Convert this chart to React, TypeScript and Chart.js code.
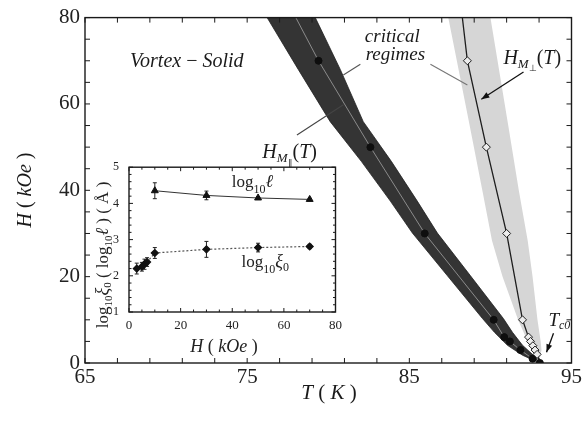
import React, { useEffect, useRef } from 'react';
import { Chart, registerables } from 'chart.js';
Chart.register(...registerables);

const SERIF = '"Liberation Serif", "Times New Roman", serif';

// ---------- main axes ----------
const T_MIN = 65, T_MAX = 95, T_STEP = 2;
const H_MIN = 0, H_MAX = 80, H_STEP = 5;
const T_LABELED = [65, 75, 85, 95];
const H_LABELED = [0, 20, 40, 60, 80];

// H_M∥(T) : filled circles and the line through them
const parT = [79.4, 82.6, 85.95, 90.2, 90.85, 91.2, 91.85, 92.6, 93.05];
const parH = [70, 50, 30, 10, 6, 5, 3, 1, 0];
const parLineT = [78.0, ...parT];
const parLineH = [80, ...parH];

// H_M⊥(T) : open diamonds and the line through them
const perT = [88.58, 89.75, 91.0, 91.98, 92.35, 92.47, 92.62, 92.75, 92.88];
const perH = [70, 50, 30, 10, 6, 5, 4, 3, 2];
const perLineT = [88.27, ...perT, 93.05];
const perLineH = [80, ...perH, 0];

// critical regime bands (edges in T for given H)
const darkBandH = [80, 68.0, 55.9, 46.7, 37.5, 30.1, 20.2, 10.3, 7.1, 4.1, 1.8, 0];
const darkLeftT = [76.23, 78.15, 80.12, 82.04, 83.83, 85.19, 87.35, 89.51, 90.25, 91.05, 91.98, 93.05];
const darkRightT = [79.2, 80.74, 82.16, 83.89, 85.49, 86.73, 88.77, 90.8, 91.36, 91.98, 92.65, 93.05];
const lightBandH = [80, 55, 40, 28.3, 20, 10.1, 5, 3, 0];
const lightLeftT = [87.4, 88.72, 89.5, 90.1, 90.75, 91.7, 92.3, 92.6, 93.0];
const lightRightT = [90.0, 91.1, 91.75, 92.3, 92.6, 92.9, 93.1, 93.15, 93.05];

// ---------- inset ----------
const IN_X_MIN = 0, IN_X_MAX = 80, IN_X_STEP = 5;
const IN_Y_MIN = 1, IN_Y_MAX = 5, IN_Y_STEP = 0.2;
const IN_X_LABELED = [0, 20, 40, 60, 80];
const ellH = [10, 30, 50, 70];
const ellLog = [4.35, 4.22, 4.15, 4.11];
const ellErr = [0.22, 0.12, 0.04, 0.03];
const xiH = [3, 5, 6, 7, 10, 30, 50, 70];
const xiLog = [2.2, 2.25, 2.32, 2.38, 2.63, 2.73, 2.78, 2.81];
const xiErr = [0.15, 0.12, 0.14, 0.12, 0.15, 0.22, 0.12, 0.06];

// annotation anchors (data coordinates of the main plot)
const LEADERS = [
  { from: [81.98, 69.2], to: [80.93, 66.7], color: '#555' },
  { from: [86.3, 69.2], to: [88.58, 64.4], color: '#777' },
  { from: [78.07, 52.8], to: [80.93, 59.8], color: '#444' },
];
const ARROWS = [
  { from: [92.04, 67.4], to: [89.44, 61.1] },
  { from: [93.89, 6.9], to: [93.46, 2.5] },
];

type Seg = { t: string; size: number; it?: boolean; dy?: number };
const fontOf = (s: Seg) => `${s.it ? 'italic ' : ''}${s.size}px ${SERIF}`;

function drawRich(ctx: any, segs: Seg[], x: number, y: number, align = 'left') {
  let w = 0;
  for (const s of segs) { ctx.font = fontOf(s); w += ctx.measureText(s.t).width; }
  let cx = align === 'center' ? x - w / 2 : x;
  ctx.textAlign = 'left';
  ctx.textBaseline = 'alphabetic';
  for (const s of segs) {
    ctx.font = fontOf(s);
    ctx.fillText(s.t, cx, y + (s.dy || 0));
    cx += ctx.measureText(s.t).width;
  }
}

const toXY = (xs: number[], ys: number[]) => xs.map((x, i) => ({ x, y: ys[i] }));
function polygon(leftT: number[], rightT: number[], H: number[]) {
  const pts = leftT.map((t, i) => ({ x: t, y: H[i] }));
  for (let i = rightT.length - 1; i >= 0; i--) pts.push({ x: rightT[i], y: H[i] });
  return pts;
}

function drawFrameTicks(chart: any, major: number, minor: number, xLab: number[], yLab: (v: number) => boolean) {
  const { ctx, chartArea: a, scales: { x, y } } = chart;
  ctx.save();
  ctx.strokeStyle = '#1a1a1a';
  ctx.lineWidth = 1.4;
  ctx.strokeRect(a.left, a.top, a.right - a.left, a.bottom - a.top);
  ctx.lineWidth = 1;
  ctx.beginPath();
  for (const t of x.ticks) {
    const px = x.getPixelForValue(t.value);
    const len = xLab.some(v => Math.abs(v - t.value) < 1e-6) ? major : minor;
    ctx.moveTo(px, a.bottom); ctx.lineTo(px, a.bottom - len);
    ctx.moveTo(px, a.top); ctx.lineTo(px, a.top + len);
  }
  for (const t of y.ticks) {
    const py = y.getPixelForValue(t.value);
    const len = yLab(t.value) ? major : minor;
    ctx.moveTo(a.left, py); ctx.lineTo(a.left + len, py);
    ctx.moveTo(a.right, py); ctx.lineTo(a.right - len, py);
  }
  ctx.stroke();
  ctx.restore();
}

const mainDecor = {
  id: 'mainDecor',
  afterDatasetsDraw(chart: any) {
    const { ctx, scales: { x, y } } = chart;
    const P = (p: number[]) => [x.getPixelForValue(p[0]), y.getPixelForValue(p[1])];
    ctx.save();
    for (const l of LEADERS) {
      const [x1, y1] = P(l.from), [x2, y2] = P(l.to);
      ctx.strokeStyle = l.color; ctx.lineWidth = 1.1;
      ctx.beginPath(); ctx.moveTo(x1, y1); ctx.lineTo(x2, y2); ctx.stroke();
    }
    for (const a of ARROWS) {
      const [x1, y1] = P(a.from), [x2, y2] = P(a.to);
      ctx.strokeStyle = '#111'; ctx.fillStyle = '#111'; ctx.lineWidth = 1.3;
      ctx.beginPath(); ctx.moveTo(x1, y1); ctx.lineTo(x2, y2); ctx.stroke();
      const ang = Math.atan2(y2 - y1, x2 - x1);
      const L = 8, W = 3;
      ctx.beginPath();
      ctx.moveTo(x2, y2);
      ctx.lineTo(x2 - L * Math.cos(ang) + W * Math.sin(ang), y2 - L * Math.sin(ang) - W * Math.cos(ang));
      ctx.lineTo(x2 - L * Math.cos(ang) - W * Math.sin(ang), y2 - L * Math.sin(ang) + W * Math.cos(ang));
      ctx.closePath(); ctx.fill();
    }
    ctx.fillStyle = '#1a1a1a';
    let [px, py] = P([67.78, 68.5]);
    drawRich(ctx, [{ t: 'Vortex', size: 20, it: true }, { t: ' − ', size: 20 }, { t: 'Solid', size: 20, it: true }], px, py);
    [px, py] = P([83.95, 74.25]);
    drawRich(ctx, [{ t: 'critical', size: 19, it: true }], px, py, 'center');
    [px, py] = P([84.14, 70.1]);
    drawRich(ctx, [{ t: 'regimes', size: 19, it: true }], px, py, 'center');
    [px, py] = P([90.8, 69.2]);
    drawRich(ctx, [
      { t: 'H', size: 20, it: true }, { t: 'M', size: 13, it: true, dy: 4 }, { t: '⊥', size: 9, dy: 7 },
      { t: '(', size: 20 }, { t: 'T', size: 20, it: true }, { t: ')', size: 20 },
    ], px, py);
    [px, py] = P([75.93, 47.4]);
    drawRich(ctx, [
      { t: 'H', size: 20, it: true }, { t: 'M', size: 13, it: true, dy: 4 }, { t: '∥', size: 9, dy: 8 },
      { t: '(', size: 20 }, { t: 'T', size: 20, it: true }, { t: ')', size: 20 },
    ], px, py);
    [px, py] = P([93.58, 8.5]);
    drawRich(ctx, [{ t: 'T', size: 19, it: true }, { t: 'c0', size: 12, it: true, dy: 3 }], px, py);
    ctx.restore();
  },
  afterDraw(chart: any) {
    drawFrameTicks(chart, 5, 5, T_LABELED, v => H_LABELED.includes(v));
    const { ctx } = chart;
    ctx.save();
    ctx.fillStyle = '#1a1a1a';
    drawRich(ctx, [{ t: 'T', size: 21, it: true }, { t: ' ( ', size: 21 }, { t: 'K', size: 21, it: true }, { t: ' )', size: 21 }], 329, 399, 'center');
    ctx.translate(24, 190);
    ctx.rotate(-Math.PI / 2);
    drawRich(ctx, [{ t: 'H', size: 20, it: true }, { t: ' ( ', size: 20 }, { t: 'kOe', size: 20, it: true }, { t: ' )', size: 20 }], 0, 7, 'center');
    ctx.restore();
  },
};

const isInt = (v: number) => Math.abs(v - Math.round(v)) < 1e-6;

const insetDecor = {
  id: 'insetDecor',
  beforeDatasetsDraw(chart: any) {
    const { ctx, chartArea: a, scales: { x, y } } = chart;
    ctx.save();
    ctx.fillStyle = '#fff';
    ctx.fillRect(a.left, a.top, a.right - a.left, a.bottom - a.top);
    ctx.strokeStyle = '#222'; ctx.lineWidth = 1;
    const bars = (hs: number[], vs: number[], es: number[]) => {
      hs.forEach((h, i) => {
        const px = x.getPixelForValue(h);
        const y1 = y.getPixelForValue(vs[i] - es[i]), y2 = y.getPixelForValue(vs[i] + es[i]);
        ctx.beginPath();
        ctx.moveTo(px, y1); ctx.lineTo(px, y2);
        ctx.moveTo(px - 2, y1); ctx.lineTo(px + 2, y1);
        ctx.moveTo(px - 2, y2); ctx.lineTo(px + 2, y2);
        ctx.stroke();
      });
    };
    bars(ellH, ellLog, ellErr);
    bars(xiH, xiLog, xiErr);
    ctx.restore();
  },
  afterDraw(chart: any) {
    drawFrameTicks(chart, 4, 2.5, IN_X_LABELED, isInt);
    const { ctx, scales: { x, y } } = chart;
    ctx.save();
    ctx.fillStyle = '#222';
    drawRich(ctx, [{ t: 'log', size: 17 }, { t: '10', size: 12, dy: 6 }, { t: 'ℓ', size: 18, it: true }],
      x.getPixelForValue(39.8), y.getPixelForValue(4.46));
    drawRich(ctx, [{ t: 'log', size: 17 }, { t: '10', size: 12, dy: 6 }, { t: 'ξ', size: 18, it: true }, { t: '0', size: 12, dy: 4 }],
      x.getPixelForValue(43.6), y.getPixelForValue(2.23));
    drawRich(ctx, [{ t: 'H', size: 18, it: true }, { t: ' ( ', size: 18 }, { t: 'kOe', size: 18, it: true }, { t: ' )', size: 18 }], 136, 202, 'center');
    ctx.translate(15, 105);
    ctx.rotate(-Math.PI / 2);
    drawRich(ctx, [
      { t: 'log', size: 17 }, { t: '10', size: 11, dy: 4 }, { t: 'ξ', size: 18, it: true }, { t: '0', size: 11, dy: 3 },
      { t: ' ( ', size: 17 }, { t: 'log', size: 17 }, { t: '10', size: 11, dy: 4 }, { t: 'ℓ', size: 18, it: true }, { t: ' )', size: 17 },
      { t: ' ( Å )', size: 17 },
    ], 0, 5, 'center');
    ctx.restore();
  },
};

function MainChart() {
  const ref = useRef<HTMLCanvasElement>(null);
  useEffect(() => {
    const chart = new Chart(ref.current as any, {
      type: 'scatter',
      data: {
        datasets: [
          { data: polygon(lightLeftT, lightRightT, lightBandH), showLine: true, fill: 'shape', backgroundColor: '#d6d6d6', borderColor: 'rgba(0,0,0,0)', borderWidth: 0, pointRadius: 0, order: 6 } as any,
          { data: polygon(darkLeftT, darkRightT, darkBandH), showLine: true, fill: 'shape', backgroundColor: '#343434', borderColor: '#222', borderWidth: 0.8, pointRadius: 0, order: 5 } as any,
          { data: toXY(parLineT, parLineH), showLine: true, borderColor: '#8c8c8c', borderWidth: 1, pointRadius: 0, order: 4 },
          { data: toXY(perLineT, perLineH), showLine: true, borderColor: '#1e1e1e', borderWidth: 1.3, pointRadius: 0, order: 3 },
          { data: toXY(parT, parH), pointStyle: 'circle', pointRadius: 3.5, backgroundColor: '#0e0e0e', borderColor: '#0e0e0e', order: 2 },
          { data: toXY(perT, perH), pointStyle: 'rectRot', pointRadius: 4, backgroundColor: '#ececec', borderColor: '#1e1e1e', borderWidth: 1, order: 1 },
        ],
      },
      options: {
        responsive: false,
        animation: false,
        devicePixelRatio: 1,
        layout: { padding: { left: 0, top: 15, right: 12, bottom: 0 } },
        plugins: { legend: { display: false }, tooltip: { enabled: false } },
        scales: {
          x: {
            type: 'linear', min: T_MIN, max: T_MAX,
            grid: { display: false, drawTicks: false }, border: { display: false },
            ticks: {
              stepSize: T_STEP, autoSkip: false, maxRotation: 0, padding: 2, color: '#222',
              font: { family: SERIF, size: 21 },
              callback: (v: any) => (T_LABELED.includes(Number(v)) ? String(v) : ''),
            },
            afterFit: (s: any) => { s.height = 58; },
          },
          y: {
            type: 'linear', min: H_MIN, max: H_MAX,
            grid: { display: false, drawTicks: false }, border: { display: false },
            ticks: {
              stepSize: H_STEP, autoSkip: false, padding: 5, color: '#222',
              font: { family: SERIF, size: 21 },
              callback: (v: any) => (H_LABELED.includes(Number(v)) ? String(v) : ''),
            },
            afterFit: (s: any) => { s.width = 85; },
          },
        },
      },
      plugins: [mainDecor],
    } as any);
    return () => chart.destroy();
  }, []);
  return <canvas ref={ref} width={584} height={421} style={{ position: 'absolute', left: 0, top: 0 }} />;
}

function InsetChart() {
  const ref = useRef<HTMLCanvasElement>(null);
  useEffect(() => {
    const chart = new Chart(ref.current as any, {
      type: 'scatter',
      data: {
        datasets: [
          { data: toXY(ellH, ellLog), showLine: true, borderColor: '#333', borderWidth: 1, pointStyle: 'triangle', pointRadius: 4, backgroundColor: '#111', pointBorderColor: '#111' },
          { data: toXY(xiH, xiLog), showLine: true, borderColor: '#555', borderWidth: 1.2, borderDash: [2, 2], pointStyle: 'rectRot', pointRadius: 3.5, backgroundColor: '#111', pointBorderColor: '#111' },
        ],
      },
      options: {
        responsive: false,
        animation: false,
        devicePixelRatio: 1,
        layout: { padding: { left: 0, top: 13, right: 10, bottom: 0 } },
        plugins: { legend: { display: false }, tooltip: { enabled: false } },
        scales: {
          x: {
            type: 'linear', min: IN_X_MIN, max: IN_X_MAX,
            grid: { display: false, drawTicks: false }, border: { display: false },
            ticks: {
              stepSize: IN_X_STEP, autoSkip: false, maxRotation: 0, padding: 6, color: '#222',
              font: { family: SERIF, size: 13 },
              callback: (v: any) => (IN_X_LABELED.includes(Number(v)) ? String(v) : ''),
            },
            afterFit: (s: any) => { s.height = 50; },
          },
          y: {
            type: 'linear', min: IN_Y_MIN, max: IN_Y_MAX,
            grid: { display: false, drawTicks: false }, border: { display: false },
            ticks: {
              stepSize: IN_Y_STEP, autoSkip: false, padding: 10, color: '#222',
              font: { family: SERIF, size: 12 },
              callback: (v: any) => (isInt(Number(v)) ? String(Math.round(Number(v))) : ''),
            },
            afterFit: (s: any) => { s.width = 41; },
          },
        },
      },
      plugins: [insetDecor],
    } as any);
    return () => chart.destroy();
  }, []);
  return <canvas ref={ref} width={260} height={212} style={{ position: 'absolute', left: 88, top: 150 }} />;
}

export default function App() {
  return (
    <div style={{ position: 'fixed', left: 0, top: 0, width: 584, height: 421, background: '#fff', overflow: 'hidden' }}>
      <MainChart />
      <InsetChart />
    </div>
  );
}
